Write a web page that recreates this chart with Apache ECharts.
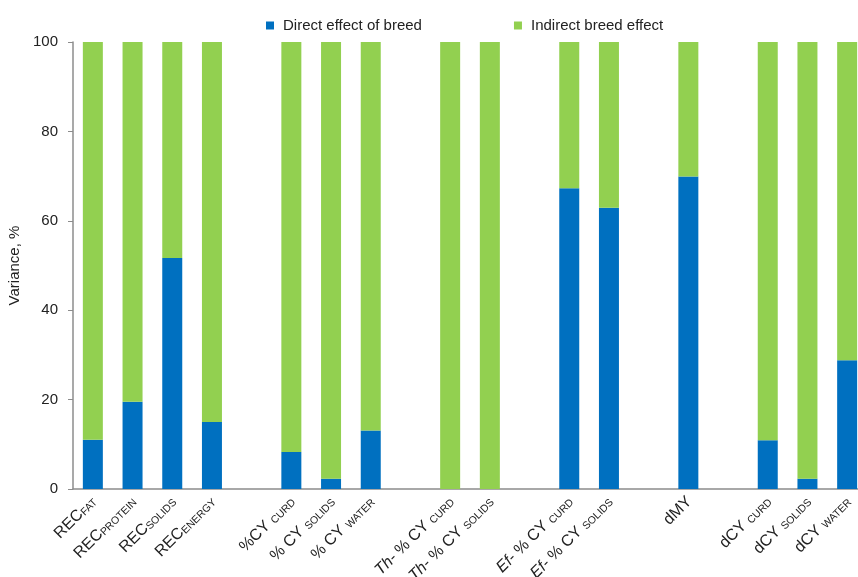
<!DOCTYPE html>
<html>
<head>
<meta charset="utf-8">
<script src="https://cdn.jsdelivr.net/npm/echarts@6/dist/echarts.min.js"></script>
<style>
html,body{margin:0;padding:0;background:#fff;}
#charts{width:858px;height:577px;}
</style>
</head>
<body>
<div id="charts"></div>
<script>
// categories, '' = empty gap slot
var categories = [
	'{m|REC}{s|FAT}', '{m|REC}{s|PROTEIN}', '{m|REC}{s|SOLIDS}', '{m|REC}{s|ENERGY}', '',
	'{m|%CY }{s|CURD}', '{m|% CY }{s|SOLIDS}', '{m|% CY }{s|WATER}', '',
	'{i|Th-}{m| % CY }{s|CURD}', '{i|Th-}{m| % CY }{s|SOLIDS}', '',
	'{i|Ef-}{m| % CY }{s|CURD}', '{i|Ef-}{m| % CY }{s|SOLIDS}', '',
	'{m|dMY}', '',
	'{m|dCY }{s|CURD}', '{m|dCY }{s|SOLIDS}', '{m|dCY }{s|WATER}'
];
var directEffect = [11, 19.5, 51.7, 15, null, 8.3, 2.3, 13.1, null, 0, 0, null, 67.3, 62.9, null, 69.9, null, 10.9, 2.3, 28.8];
var indirectEffect = [];
for (var i = 0; i < directEffect.length; i++) {
	indirectEffect.push(directEffect[i] == null ? null : 100 - directEffect[i]);
}

var charts = echarts.init(document.getElementById('charts'));
var axisGray = '#8c8c8c';
var option = {
	animation: false,
	textStyle: { fontFamily: 'Liberation Sans, Arial, sans-serif' },
	legend: {
		left: 261,
		top: 13,
		itemWidth: 8,
		itemHeight: 8,
		itemGap: 92,
		icon: 'rect',
		textStyle: { fontSize: 15, color: '#222', padding: [0, 0, 0, 4] },
		data: ['Direct effect of breed', 'Indirect breed effect']
	},
	grid: { left: 73, top: 42, bottom: 88, right: -9, containLabel: false, outerBoundsMode: 'none' },
	xAxis: {
		type: 'category',
		data: categories,
		axisLine: { lineStyle: { color: axisGray, width: 1.5 } },
		axisTick: { alignWithLabel: true, length: 5, lineStyle: { color: axisGray } },
		axisLabel: {
			interval: 0,
			rotate: 45,
			margin: 9,
			rich: {
				m: { fontSize: 16, color: '#222', verticalAlign: 'bottom', lineHeight: 19 },
				i: { fontSize: 16, color: '#222', fontStyle: 'italic', verticalAlign: 'bottom', lineHeight: 19 },
				s: { fontSize: 10.5, color: '#222', verticalAlign: 'bottom', lineHeight: 19 }
			}
		}
	},
	yAxis: {
		type: 'value',
		min: 0,
		max: 100,
		interval: 20,
		name: 'Variance, %',
		nameLocation: 'middle',
		nameGap: 47,
		nameTextStyle: { fontSize: 15, color: '#222' },
		axisLine: { show: true, lineStyle: { color: axisGray, width: 1.5 } },
		axisTick: { show: true, length: 5, lineStyle: { color: axisGray } },
		axisLabel: { fontSize: 15, color: '#222', margin: 15 },
		splitLine: { show: false }
	},
	series: [{
		name: 'Direct effect of breed',
		type: 'bar',
		stack: 'total',
		barWidth: 20,
		itemStyle: { color: '#0070C0' },
		data: directEffect
	}, {
		name: 'Indirect breed effect',
		type: 'bar',
		stack: 'total',
		barWidth: 20,
		itemStyle: { color: '#92D050' },
		data: indirectEffect
	}]
};
charts.setOption(option);
</script>
</body>
</html>
